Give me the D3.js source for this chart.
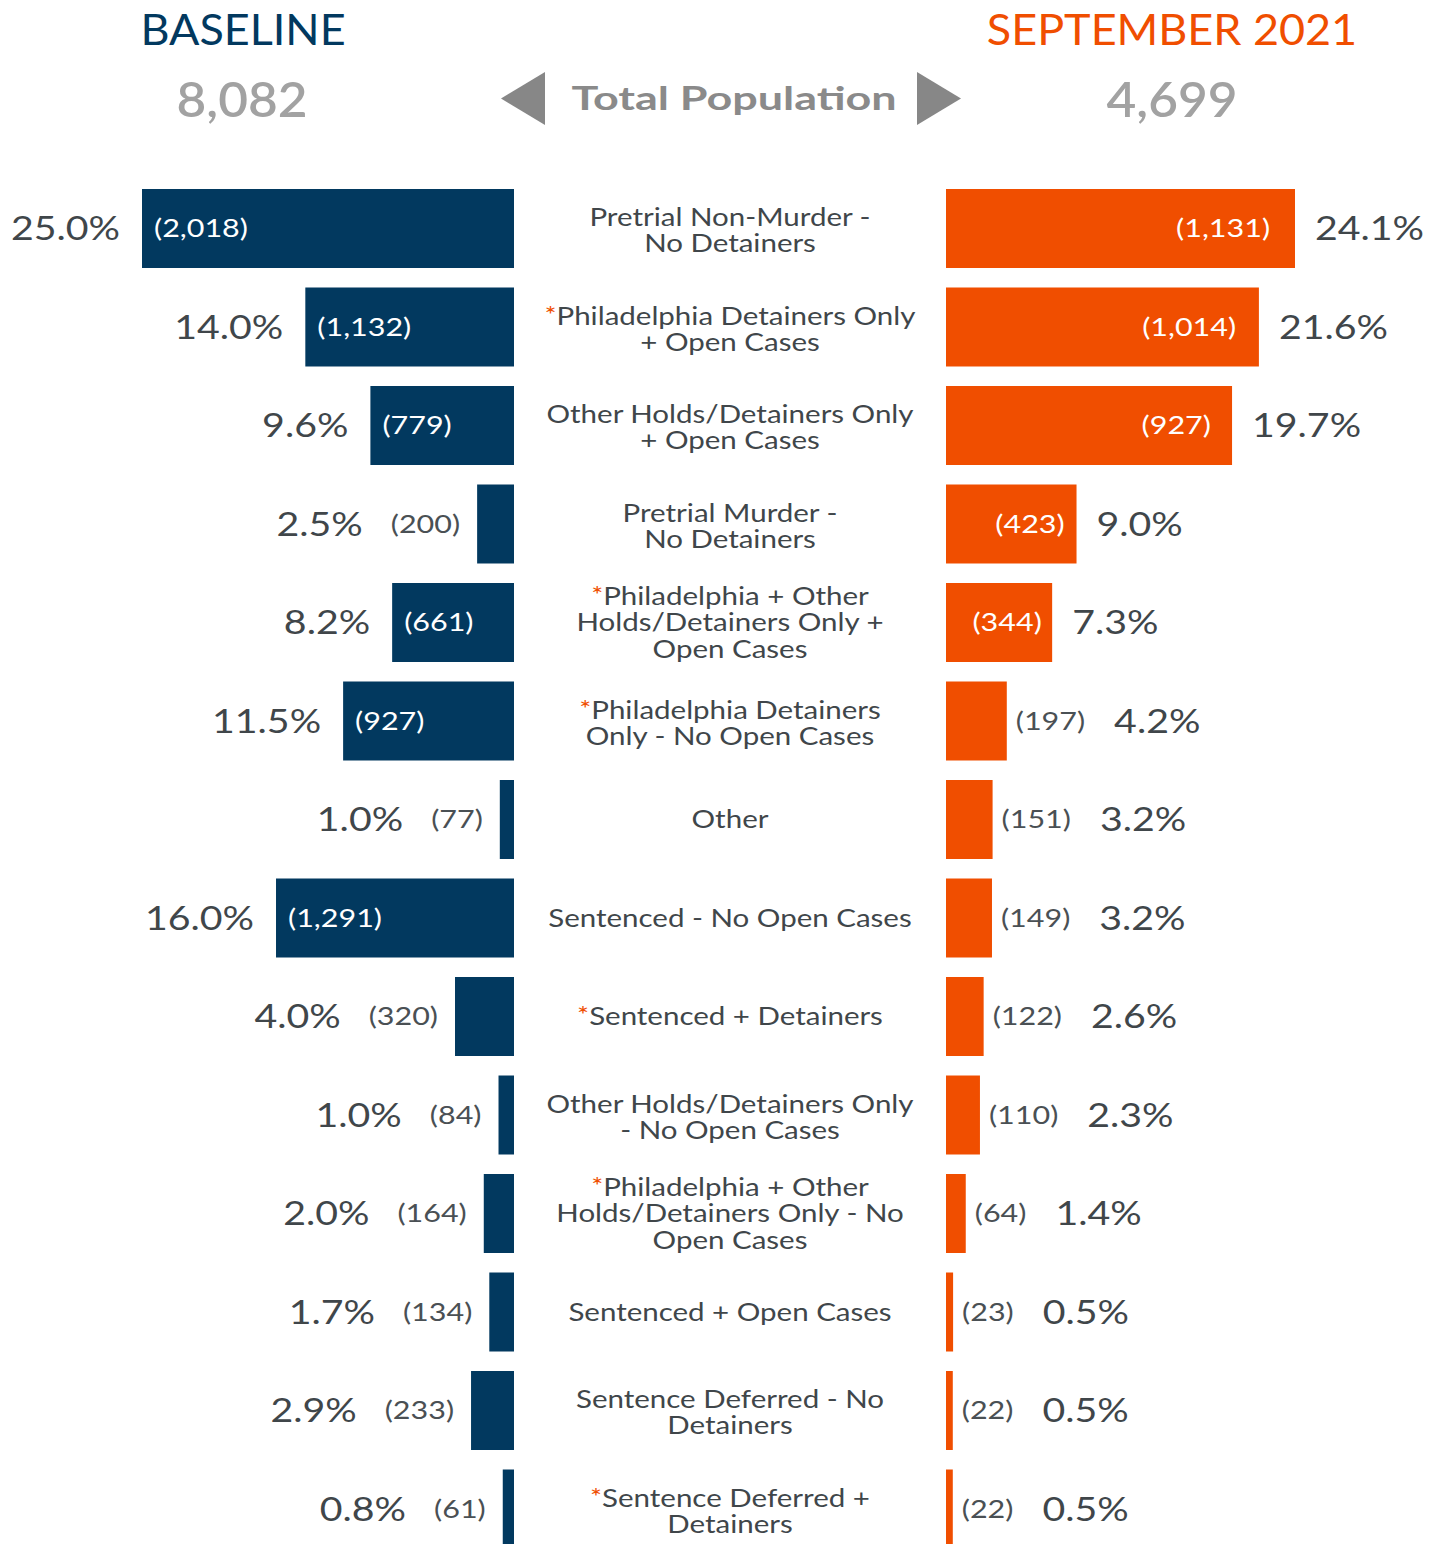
<!DOCTYPE html>
<html>
<head>
<meta charset="utf-8">
<script src="https://cdn.jsdelivr.net/npm/d3@7"></script>
<style>
  html, body { margin: 0; padding: 0; background: #fff; }
  svg { display: block; font-family: Lato, "Open Sans", sans-serif; }
</style>
</head>
<body>
<div id="chart"></div>
<script>
// chart values
const categories = [
  'Pretrial Non-Murder -\nNo Detainers',
  '*Philadelphia Detainers Only\n+ Open Cases',
  'Other Holds/Detainers Only\n+ Open Cases',
  'Pretrial Murder -\nNo Detainers',
  '*Philadelphia + Other\nHolds/Detainers Only +\nOpen Cases',
  '*Philadelphia Detainers\nOnly - No Open Cases',
  'Other',
  'Sentenced - No Open Cases',
  '*Sentenced + Detainers',
  'Other Holds/Detainers Only\n- No Open Cases',
  '*Philadelphia + Other\nHolds/Detainers Only - No\nOpen Cases',
  'Sentenced + Open Cases',
  'Sentence Deferred - No\nDetainers',
  '*Sentence Deferred +\nDetainers',
];
const baselineCounts = [2018, 1132, 779, 200, 661, 927, 77, 1291, 320, 84, 164, 134, 233, 61];
const baselinePct = [25.0, 14.0, 9.6, 2.5, 8.2, 11.5, 1.0, 16.0, 4.0, 1.0, 2.0, 1.7, 2.9, 0.8];
const septCounts = [1131, 1014, 927, 423, 344, 197, 151, 149, 122, 110, 64, 23, 22, 22];
const septPct = [24.1, 21.6, 19.7, 9.0, 7.3, 4.2, 3.2, 3.2, 2.6, 2.3, 1.4, 0.5, 0.5, 0.5];
const periods = ['BASELINE', 'SEPTEMBER 2021'];
const totals = [8082, 4699];
const centerTitle = 'Total Population';

const width = 1429;
const height = 1544;
const navy = '#02395f';
const orange = '#f04e00';
const ink = '#40464a';

const leftEdge = 514;
const rightEdge = 946;
const midX = (leftEdge + rightEdge) / 2;

// text in the picture is stretched sideways
const sx = { head: 1.07, total: 1.07, title: 1.36, pct: 1.19, count: 1.22, cat: 1.18 };

const svg = d3.select('#chart')
  .append('svg')
  .attr('width', width)
  .attr('height', height);

const rows = d3.range(categories.length);

const y = d3.scaleBand()
  .domain(rows)
  .range([189, 1548.5])
  .paddingInner(0.198)
  .paddingOuter(0);

const xLeft = d3.scaleLinear()
  .domain([0, d3.max(baselineCounts)])
  .range([0, 372]);

const xRight = d3.scaleLinear()
  .domain([0, d3.max(septCounts)])
  .range([0, 349]);

const fmt = d3.format(',');
const pctFmt = d3.format('.1f');

function label(g, x, yy, txt, opts) {
  const t = g.append('text')
    .attr('transform', `translate(${x},${yy}) scale(${opts.sx},1)`)
    .attr('text-anchor', opts.anchor || 'start')
    .attr('dy', opts.dy || '0.35em')
    .style('font-size', opts.size + 'px')
    .style('font-weight', opts.weight || 400)
    .style('fill', opts.fill || ink)
    .text(txt);
  return t;
}

function textWidth(t, s) {
  return t.node().getComputedTextLength() * s;
}

// header
const head = svg.append('g');
label(head, 243, 30, periods[0], { sx: sx.head, size: 42, fill: navy, anchor: 'middle' });
label(head, 1172, 30, periods[1], { sx: sx.head, size: 42, fill: orange, anchor: 'middle' });
label(head, 242, 100, fmt(totals[0]), { sx: sx.total, size: 48, weight: 600, fill: '#a2a2a2', anchor: 'middle' });
label(head, 1172, 100, fmt(totals[1]), { sx: sx.total, size: 48, weight: 600, fill: '#a2a2a2', anchor: 'middle' });
label(head, 734, 98, centerTitle, { sx: sx.title, size: 33, weight: 700, fill: '#8a8a8a', anchor: 'middle' });

head.append('path')
  .attr('d', d3.line()([[545, 72], [545, 125], [501, 98.5]]) + 'Z')
  .attr('fill', '#878787');
head.append('path')
  .attr('d', d3.line()([[917, 72], [917, 125], [961, 98.5]]) + 'Z')
  .attr('fill', '#878787');

// bars
svg.append('g')
  .selectAll('rect')
  .data(rows)
  .join('rect')
  .attr('x', i => leftEdge - xLeft(baselineCounts[i]))
  .attr('y', i => y(i))
  .attr('width', i => xLeft(baselineCounts[i]))
  .attr('height', y.bandwidth())
  .attr('fill', navy);

svg.append('g')
  .selectAll('rect')
  .data(rows)
  .join('rect')
  .attr('x', rightEdge)
  .attr('y', i => y(i))
  .attr('width', i => xRight(septCounts[i]))
  .attr('height', y.bandwidth())
  .attr('fill', orange);

// value labels
const vals = svg.append('g');
const countSize = 25;
const pctSize = 33;
rows.forEach(i => {
  const cy = y(i) + y.bandwidth() / 2;

  // left side
  const lw = xLeft(baselineCounts[i]);
  const lx = leftEdge - lw;
  const lCount = `(${fmt(baselineCounts[i])})`;
  const lPct = pctFmt(baselinePct[i]) + '%';
  if (lw >= 100) {
    label(vals, lx + 12, cy, lCount, { sx: sx.count, size: countSize, fill: '#fff' });
    label(vals, lx - 22, cy, lPct, { sx: sx.pct, size: pctSize, anchor: 'end' });
  } else {
    const c = label(vals, lx - 17, cy, lCount, { sx: sx.count, size: countSize, fill: '#4a5054', anchor: 'end' });
    const cw = textWidth(c, sx.count);
    label(vals, lx - 17 - cw - 28, cy, lPct, { sx: sx.pct, size: pctSize, anchor: 'end' });
  }

  // right side
  const rw = xRight(septCounts[i]);
  const rx = rightEdge + rw;
  const rCount = `(${fmt(septCounts[i])})`;
  const rPct = pctFmt(septPct[i]) + '%';
  if (rw >= 100) {
    label(vals, rx - (4 + rw * 0.06), cy, rCount, { sx: sx.count, size: countSize, fill: '#fff', anchor: 'end' });
    label(vals, rx + 20, cy, rPct, { sx: sx.pct, size: pctSize });
  } else {
    const c = label(vals, rx + 9, cy, rCount, { sx: sx.count, size: countSize, fill: '#4a5054' });
    const cw = textWidth(c, sx.count);
    label(vals, rx + 9 + cw + 29, cy, rPct, { sx: sx.pct, size: pctSize });
  }
});

// category labels
const lineH = 26.5;
const cats = svg.append('g');
rows.forEach(i => {
  const lines = categories[i].split('\n');
  const cy = y(i) + y.bandwidth() / 2 + (lines.length === 2 ? 2 : 0);
  const top = cy - (lines.length - 1) * lineH / 2;
  const t = cats.append('text')
    .attr('transform', `translate(${midX},${top}) scale(${sx.cat},1)`)
    .attr('text-anchor', 'middle')
    .style('font-size', '25px')
    .style('fill', ink);
  lines.forEach((ln, k) => {
    const tsp = t.append('tspan')
      .attr('x', 0)
      .attr('y', k * lineH)
      .attr('dy', '0.35em');
    if (ln.startsWith('*')) {
      tsp.append('tspan')
        .style('fill', orange)
        .style('font-size', '24px')
        .attr('baseline-shift', '2')
        .text('*');
      tsp.append('tspan').text(ln.slice(1));
    } else {
      tsp.text(ln);
    }
  });
});
</script>
</body>
</html>
